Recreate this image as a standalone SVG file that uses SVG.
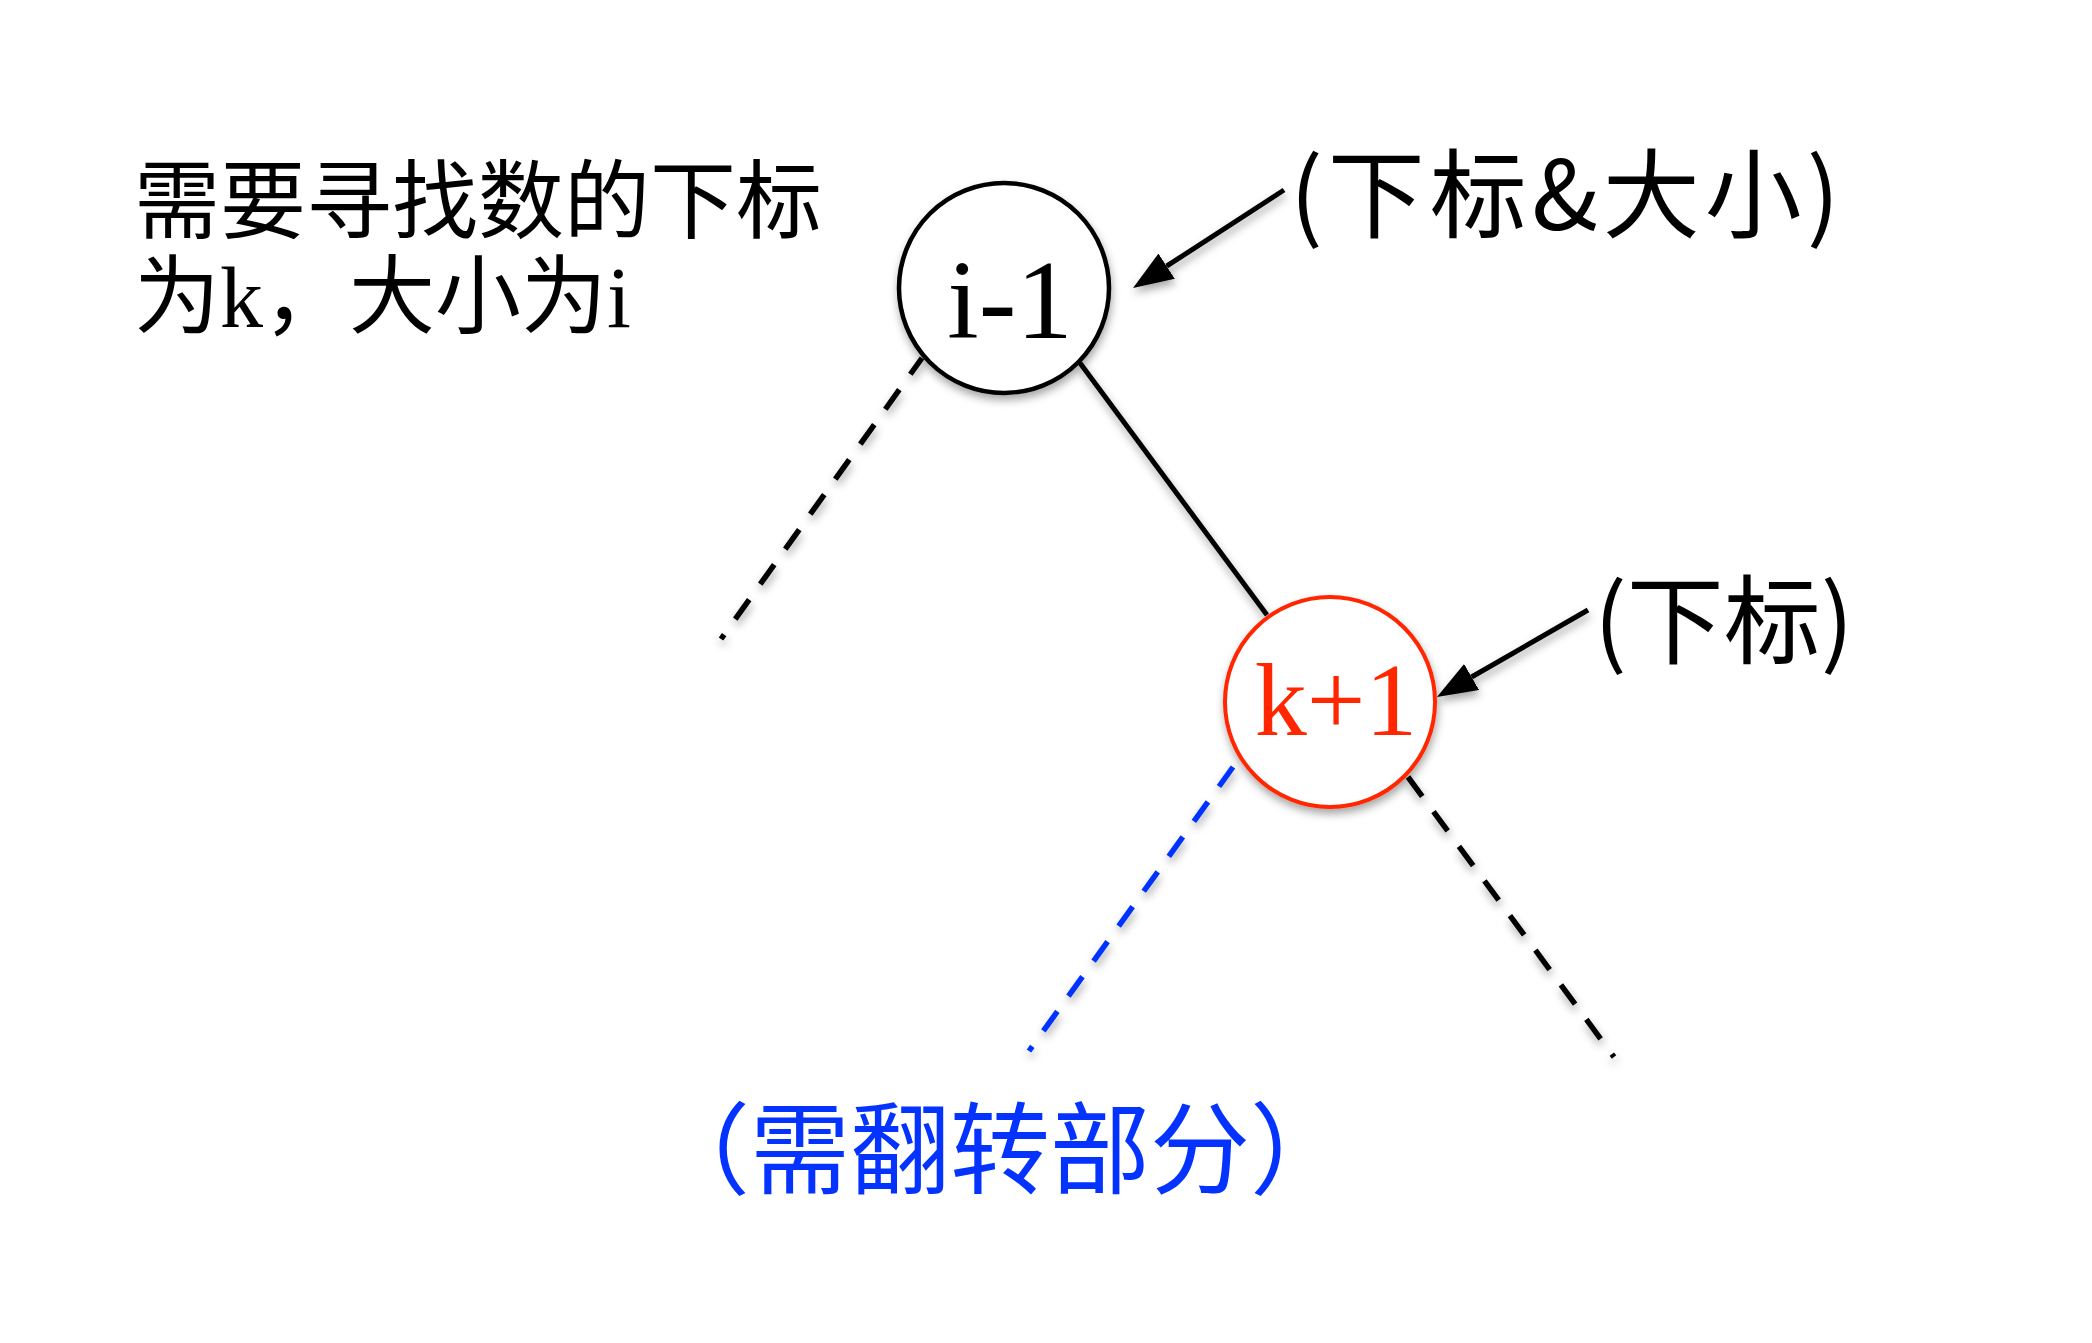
<svg xmlns="http://www.w3.org/2000/svg" width="2092" height="1343" viewBox="0 0 2092 1343">
<style>
.cjk{font-family:"Noto Sans CJK SC","Noto Sans",sans-serif;}
.mix{font-family:"Liberation Serif","Noto Sans CJK SC",serif;}
.serif{font-family:"Liberation Serif","Times New Roman",serif;}
.edge{fill:none;stroke:#000;stroke-width:5;}
.dash{fill:none;stroke-width:5.5;stroke-dasharray:24 19;}
.node{fill:#fff;}
</style>
<defs>
<filter id="sh" x="-20%" y="-20%" width="140%" height="150%">
<feDropShadow dx="1" dy="5" stdDeviation="4" flood-color="#000" flood-opacity="0.35"/>
</filter>
<marker id="ah" markerUnits="userSpaceOnUse" markerWidth="40" markerHeight="30" viewBox="0 0 40 30" refX="0" refY="15" orient="auto">
<path d="M0,0 L40,15 L0,30 Z" fill="#000"/>
</marker>
</defs>
<rect width="2092" height="1343" fill="#fff"/>

<g id="connectors" filter="url(#sh)">
<line class="dash" stroke="#000" stroke-dashoffset="4" x1="922" y1="358" x2="721" y2="639"/>
<line class="edge" x1="1080" y1="363" x2="1267" y2="615"/>
<line class="dash" stroke="#0433ff" x1="1233" y1="767" x2="1029" y2="1051"/>
<line class="dash" stroke="#000" x1="1408" y1="777" x2="1614" y2="1057"/>
<line class="edge" x1="1284" y1="190" x2="1166.6" y2="266.2" marker-end="url(#ah)"/>
<line class="edge" x1="1588" y1="610" x2="1471.6" y2="677" marker-end="url(#ah)"/>
</g>

<g id="node-i-1">
<circle class="node" cx="1004" cy="288" r="105" stroke="#000" stroke-width="4.5" filter="url(#sh)"/>
<text class="serif" x="1010" y="338" font-size="113" text-anchor="middle" fill="#000">i-1</text>
</g>

<g id="node-k+1">
<circle class="node" cx="1330" cy="702" r="105" stroke="#ff2600" stroke-width="4" filter="url(#sh)"/>
<text class="serif" x="1336" y="735" font-size="104" text-anchor="middle" fill="#ff2600">k+1</text>
</g>

<g id="label-desc">
<text class="cjk" x="134" y="232" font-size="86" fill="#000">需要寻找数的下标</text>
<text class="mix" x="134" y="327" font-size="86" fill="#000">为k，大小为i</text>
</g>

<g id="label-top">
<text class="cjk" x="1290" y="230" font-size="97" letter-spacing="5" fill="#000">(下标&amp;大小)</text>
</g>

<g id="label-mid">
<text class="cjk" x="1594" y="656" font-size="97" fill="#000">(下标)</text>
</g>

<g id="label-bottom">
<text class="cjk" x="650" y="1186" font-size="100" fill="#0433ff">（需翻转部分）</text>
</g>
</svg>
